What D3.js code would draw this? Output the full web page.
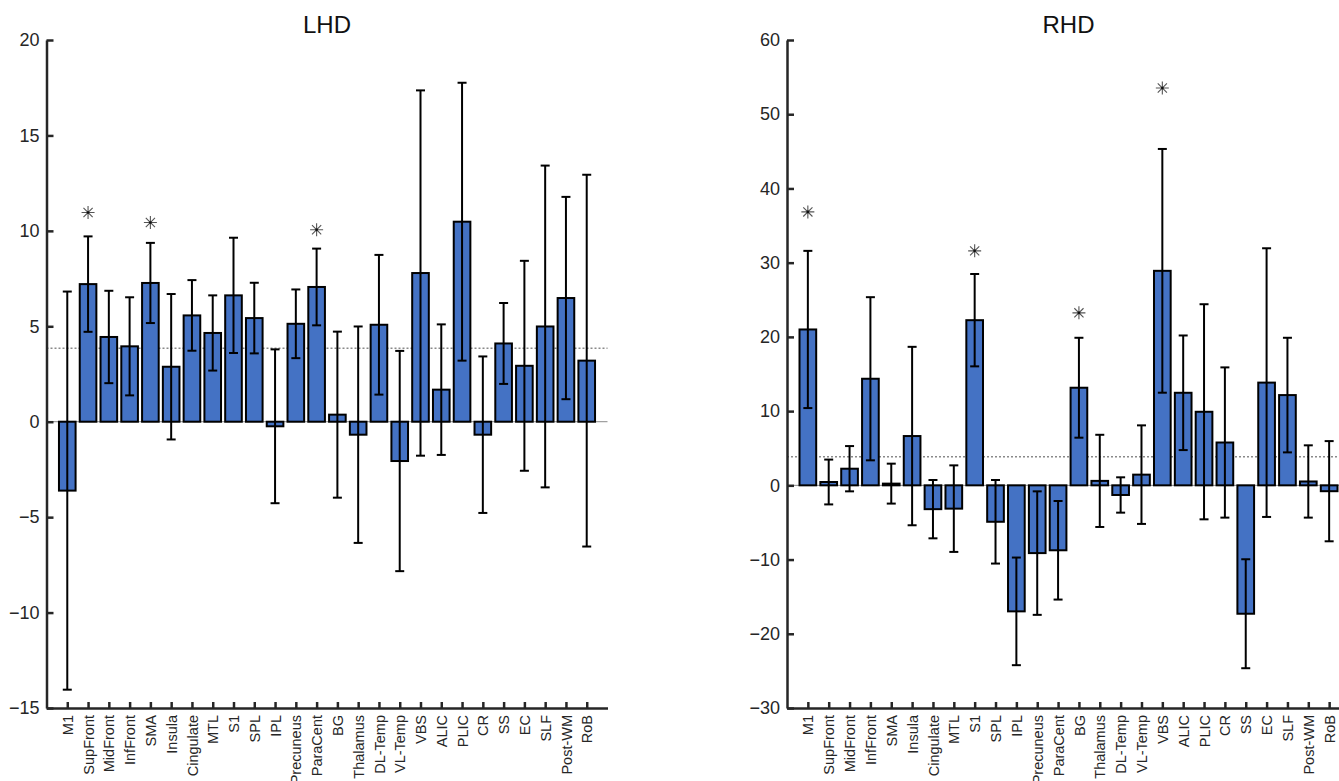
<!DOCTYPE html>
<html>
<head>
<meta charset="utf-8">
<script src="https://cdn.jsdelivr.net/npm/d3@7"></script>
<style>
  body { margin: 0; background: #fff; }
  svg { display: block; font-family: "Liberation Sans", Arial, sans-serif; }
</style>
</head>
<body>
<svg width="1339" height="781"></svg>
<script>
// region names along the x axis (same for both panels)
var regions = ["M1", "SupFront", "MidFront", "InfFront", "SMA", "Insula", "Cingulate", "MTL",
  "S1", "SPL", "IPL", "Precuneus", "ParaCent", "BG", "Thalamus", "DL-Temp", "VL-Temp",
  "VBS", "ALIC", "PLIC", "CR", "SS", "EC", "SLF", "Post-WM", "RoB"];

// left hemisphere damage
var lhdMean = [-3.61, 7.21, 4.44, 3.95, 7.27, 2.88, 5.57, 4.65, 6.62, 5.43, -0.24, 5.13, 7.06,
  0.37, -0.68, 5.08, -2.06, 7.79, 1.68, 10.48, -0.68, 4.10, 2.93, 4.99, 6.48, 3.20];
var lhdErr = [10.43, 2.50, 2.42, 2.57, 2.10, 3.81, 1.85, 1.97, 3.02, 1.85, 4.03, 1.80, 2.01,
  4.35, 5.67, 3.66, 5.77, 9.57, 3.42, 7.28, 4.10, 2.12, 5.50, 8.43, 5.30, 9.74];
var lhdStarRegions = ["SupFront", "SMA", "ParaCent"];
var lhdStarValues = [10.96, 10.44, 10.06];
var lhdTicks = [-15, -10, -5, 0, 5, 10, 15, 20];
var lhdThreshold = 3.85;

// right hemisphere damage
var rhdMean = [21.0, 0.45, 2.24, 14.36, 0.23, 6.64, -3.21, -3.14, 22.25, -4.91, -16.98, -9.13, -8.75,
  13.15, 0.60, -1.30, 1.44, 28.90, 12.47, 9.91, 5.77, -17.30, 13.84, 12.16, 0.52, -0.79];
var rhdErr = [10.59, 3.02, 3.05, 10.99, 2.69, 12.02, 3.93, 5.83, 6.22, 5.63, 7.25, 8.32, 6.64,
  6.73, 6.21, 2.38, 6.64, 16.42, 7.72, 14.49, 10.12, 7.34, 18.10, 7.72, 4.87, 6.75];
var rhdStarRegions = ["M1", "S1", "BG", "VBS"];
var rhdStarValues = [36.84, 31.59, 23.24, 53.53];
var rhdTicks = [-30, -20, -10, 0, 10, 20, 30, 40, 50, 60];
var rhdThreshold = 3.85;

var svg = d3.select("svg");
var plotTop = 40, plotBottom = 708;

function drawPanel(opt) {
    var g = svg.append("g");

    // x is a linear index scale: 0 and 27 are the empty ends of the axis
    var x = d3.scaleLinear().domain([0, regions.length + 1]).range([opt.left, opt.right]);
    var y = d3.scaleLinear().domain(opt.domain).range([plotBottom, plotTop]);
    var step = x(1) - x(0);
    var bw = step * 0.8;

    var rows = regions.map(function(r, i) {
        return {name: r, i: i + 1, mean: opt.mean[i], err: opt.err[i]};
    });

    // zero line and threshold line sit behind the bars
    g.append("line")
        .attr("x1", x(0)).attr("x2", x(regions.length + 1))
        .attr("y1", y(0)).attr("y2", y(0))
        .attr("stroke", "#8a8a8a").attr("stroke-width", 1);
    g.append("line")
        .attr("x1", x(0)).attr("x2", x(regions.length + 1))
        .attr("y1", y(opt.threshold)).attr("y2", y(opt.threshold))
        .attr("stroke", "#8a8a8a").attr("stroke-width", 1.3)
        .attr("stroke-dasharray", "2,2");

    // bars
    g.selectAll("rect.bar")
        .data(rows)
        .enter()
        .append("rect")
        .attr("class", "bar")
        .attr("x", function(d) { return x(d.i) - bw / 2; })
        .attr("y", function(d) { return y(Math.max(0, d.mean)); })
        .attr("width", bw)
        .attr("height", function(d) { return Math.abs(y(d.mean) - y(0)); })
        .attr("fill", "#4472c4")
        .attr("stroke", "#000")
        .attr("stroke-width", 2);

    // error bars
    var eb = g.selectAll("g.err")
        .data(rows)
        .enter()
        .append("g")
        .attr("class", "err")
        .attr("stroke", "#000")
        .attr("stroke-width", 2);
    eb.append("line")
        .attr("x1", function(d) { return x(d.i); })
        .attr("x2", function(d) { return x(d.i); })
        .attr("y1", function(d) { return y(d.mean + d.err); })
        .attr("y2", function(d) { return y(d.mean - d.err); });
    eb.append("line")
        .attr("x1", function(d) { return x(d.i) - 4.5; })
        .attr("x2", function(d) { return x(d.i) + 4.5; })
        .attr("y1", function(d) { return y(d.mean + d.err); })
        .attr("y2", function(d) { return y(d.mean + d.err); });
    eb.append("line")
        .attr("x1", function(d) { return x(d.i) - 4.5; })
        .attr("x2", function(d) { return x(d.i) + 4.5; })
        .attr("y1", function(d) { return y(d.mean - d.err); })
        .attr("y2", function(d) { return y(d.mean - d.err); });

    // significance asterisks (8-spoke, like matlab '*')
    var stars = opt.starRegions.map(function(r, k) {
        return {i: regions.indexOf(r) + 1, v: opt.starValues[k]};
    });
    var r = 6.5, dgn = r * 0.707;
    var starPath = "M0," + (-r) + "V" + r + "M" + (-r) + ",0H" + r +
        "M" + (-dgn) + "," + (-dgn) + "L" + dgn + "," + dgn +
        "M" + (-dgn) + "," + dgn + "L" + dgn + "," + (-dgn);
    var sg = g.selectAll("g.star")
        .data(stars)
        .enter()
        .append("g")
        .attr("class", "star")
        .attr("transform", function(d) { return "translate(" + x(d.i) + "," + y(d.v) + ")"; });
    sg.append("path").attr("d", starPath).attr("stroke", "#555").attr("stroke-width", 1.1).attr("fill", "none");
    sg.append("circle").attr("r", 1.3).attr("fill", "#111");

    // y axis, ticks pointing inward
    var ya = g.append("g")
        .attr("transform", "translate(" + opt.left + ",0)")
        .call(d3.axisLeft(y).tickValues(opt.ticks).tickSizeInner(-7).tickSizeOuter(0).tickPadding(7));

    // x axis
    var xa = g.append("g")
        .attr("transform", "translate(0," + plotBottom + ")")
        .call(d3.axisBottom(x)
            .tickValues(d3.range(1, regions.length + 1))
            .tickFormat(function(d) { return regions[d - 1]; })
            .tickSizeInner(-6).tickSizeOuter(0));
    xa.selectAll("text")
        .attr("y", 0)
        .attr("x", -7)
        .attr("dy", "0.35em")
        .attr("transform", "rotate(-90)")
        .style("text-anchor", "end")
        .style("font-size", "14.5px");

    [ya, xa].forEach(function(a) {
        a.select(".domain").attr("stroke", "#262626").attr("stroke-width", 2.5);
        a.selectAll(".tick line").attr("stroke", "#262626").attr("stroke-width", 2.5);
        a.selectAll("text").attr("fill", "#262626").attr("font-family", null);
    });
    ya.selectAll("text").style("font-size", "18px");

    // title
    g.append("text")
        .attr("x", (opt.left + opt.right) / 2)
        .attr("y", 33)
        .attr("text-anchor", "middle")
        .style("font-size", "24px")
        .attr("fill", "#111")
        .text(opt.title);
}

drawPanel({title: "LHD", left: 46.5, right: 607.5, domain: [-15, 20], ticks: lhdTicks,
    mean: lhdMean, err: lhdErr, starRegions: lhdStarRegions, starValues: lhdStarValues,
    threshold: lhdThreshold});
drawPanel({title: "RHD", left: 787, right: 1350, domain: [-30, 60], ticks: rhdTicks,
    mean: rhdMean, err: rhdErr, starRegions: rhdStarRegions, starValues: rhdStarValues,
    threshold: rhdThreshold});
</script>
</body>
</html>
